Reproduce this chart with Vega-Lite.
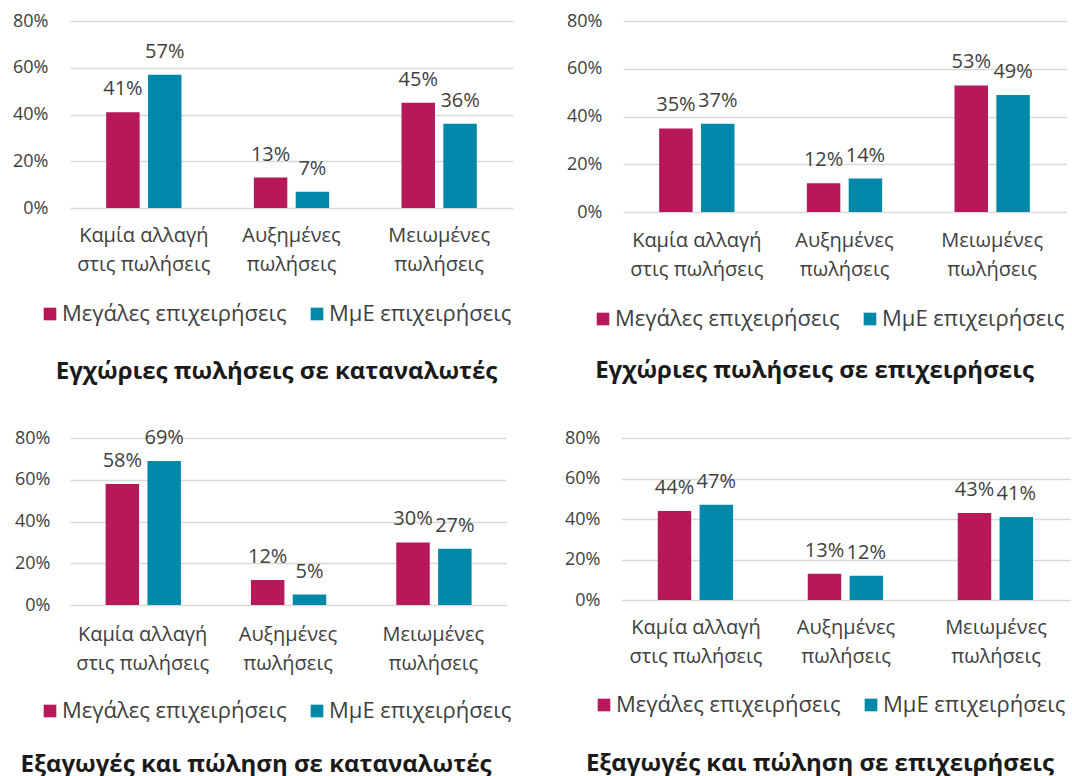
{
  "$schema": "https://vega.github.io/schema/vega-lite/v6.json",
  "padding": {"left": 12, "top": 12, "right": 0, "bottom": 0},
  "background": "white",
  "datasets": {
    "rows": [
      {"panel": "A", "cat": "Καμία αλλαγή στις πωλήσεις", "group": "Μεγάλες επιχειρήσεις", "value": 0.41},
      {"panel": "A", "cat": "Καμία αλλαγή στις πωλήσεις", "group": "ΜμΕ επιχειρήσεις", "value": 0.57},
      {"panel": "A", "cat": "Αυξημένες πωλήσεις", "group": "Μεγάλες επιχειρήσεις", "value": 0.13},
      {"panel": "A", "cat": "Αυξημένες πωλήσεις", "group": "ΜμΕ επιχειρήσεις", "value": 0.07},
      {"panel": "A", "cat": "Μειωμένες πωλήσεις", "group": "Μεγάλες επιχειρήσεις", "value": 0.45},
      {"panel": "A", "cat": "Μειωμένες πωλήσεις", "group": "ΜμΕ επιχειρήσεις", "value": 0.36},
      {"panel": "B", "cat": "Καμία αλλαγή στις πωλήσεις", "group": "Μεγάλες επιχειρήσεις", "value": 0.35},
      {"panel": "B", "cat": "Καμία αλλαγή στις πωλήσεις", "group": "ΜμΕ επιχειρήσεις", "value": 0.37},
      {"panel": "B", "cat": "Αυξημένες πωλήσεις", "group": "Μεγάλες επιχειρήσεις", "value": 0.12},
      {"panel": "B", "cat": "Αυξημένες πωλήσεις", "group": "ΜμΕ επιχειρήσεις", "value": 0.14},
      {"panel": "B", "cat": "Μειωμένες πωλήσεις", "group": "Μεγάλες επιχειρήσεις", "value": 0.53},
      {"panel": "B", "cat": "Μειωμένες πωλήσεις", "group": "ΜμΕ επιχειρήσεις", "value": 0.49},
      {"panel": "C", "cat": "Καμία αλλαγή στις πωλήσεις", "group": "Μεγάλες επιχειρήσεις", "value": 0.58},
      {"panel": "C", "cat": "Καμία αλλαγή στις πωλήσεις", "group": "ΜμΕ επιχειρήσεις", "value": 0.69},
      {"panel": "C", "cat": "Αυξημένες πωλήσεις", "group": "Μεγάλες επιχειρήσεις", "value": 0.12},
      {"panel": "C", "cat": "Αυξημένες πωλήσεις", "group": "ΜμΕ επιχειρήσεις", "value": 0.05},
      {"panel": "C", "cat": "Μειωμένες πωλήσεις", "group": "Μεγάλες επιχειρήσεις", "value": 0.30},
      {"panel": "C", "cat": "Μειωμένες πωλήσεις", "group": "ΜμΕ επιχειρήσεις", "value": 0.27},
      {"panel": "D", "cat": "Καμία αλλαγή στις πωλήσεις", "group": "Μεγάλες επιχειρήσεις", "value": 0.44},
      {"panel": "D", "cat": "Καμία αλλαγή στις πωλήσεις", "group": "ΜμΕ επιχειρήσεις", "value": 0.47},
      {"panel": "D", "cat": "Αυξημένες πωλήσεις", "group": "Μεγάλες επιχειρήσεις", "value": 0.13},
      {"panel": "D", "cat": "Αυξημένες πωλήσεις", "group": "ΜμΕ επιχειρήσεις", "value": 0.12},
      {"panel": "D", "cat": "Μειωμένες πωλήσεις", "group": "Μεγάλες επιχειρήσεις", "value": 0.43},
      {"panel": "D", "cat": "Μειωμένες πωλήσεις", "group": "ΜμΕ επιχειρήσεις", "value": 0.41}
    ]
  },
  "data": {"name": "rows"},
  "vconcat": [
    {
      "hconcat": [
        {
          "width": 443, "height": 187,
          "title": {"text": "Εγχώριες πωλήσεις σε καταναλωτές", "orient": "bottom", "anchor": "middle", "frame": "group", "dx": -15, "offset": 35},
          "transform": [{"filter": "datum.panel == 'A'"}],
          "encoding": {
            "x": {"field": "cat", "type": "nominal", "sort": ["Καμία αλλαγή στις πωλήσεις", "Αυξημένες πωλήσεις", "Μειωμένες πωλήσεις"], "scale": {"paddingInner": 0.49, "paddingOuter": 0.245}, "axis": {"title": null, "labelAngle": 0, "labelPadding": 17, "labelLineHeight": 29, "labelExpr": "datum.value == 'Καμία αλλαγή στις πωλήσεις' ? ['Καμία αλλαγή', 'στις πωλήσεις'] : split(datum.value, ' ')"}},
            "xOffset": {"field": "group", "type": "nominal", "sort": ["Μεγάλες επιχειρήσεις", "ΜμΕ επιχειρήσεις"], "scale": {"paddingInner": 0.2, "paddingOuter": 0}},
            "y": {"field": "value", "type": "quantitative", "scale": {"domain": [0, 0.8]}, "axis": {"title": null, "values": [0, 0.2, 0.4, 0.6, 0.8], "format": ".0%", "labelPadding": 22, "grid": true}}
          },
          "layer": [
            {"mark": {"type": "bar"}, "encoding": {"color": {"field": "group", "type": "nominal", "sort": ["Μεγάλες επιχειρήσεις", "ΜμΕ επιχειρήσεις"], "scale": {"domain": ["Μεγάλες επιχειρήσεις", "ΜμΕ επιχειρήσεις"], "range": ["#B7185A", "#0088A8"]}, "legend": {"title": null, "orient": "none", "direction": "horizontal", "legendX": -31, "legendY": 282}}}},
            {"mark": {"type": "text", "baseline": "middle", "dy": -23, "fontSize": 20, "color": "#404040"}, "encoding": {"text": {"field": "value", "type": "quantitative", "format": ".0%"}}}
          ]
        },
        {
          "width": 443, "height": 191,
          "title": {"text": "Εγχώριες πωλήσεις σε επιχειρήσεις", "orient": "bottom", "anchor": "middle", "frame": "group", "dx": -30, "offset": 29},
          "transform": [{"filter": "datum.panel == 'B'"}],
          "encoding": {
            "x": {"field": "cat", "type": "nominal", "sort": ["Καμία αλλαγή στις πωλήσεις", "Αυξημένες πωλήσεις", "Μειωμένες πωλήσεις"], "scale": {"paddingInner": 0.49, "paddingOuter": 0.245}, "axis": {"title": null, "labelAngle": 0, "labelPadding": 18, "labelLineHeight": 29, "labelExpr": "datum.value == 'Καμία αλλαγή στις πωλήσεις' ? ['Καμία αλλαγή', 'στις πωλήσεις'] : split(datum.value, ' ')"}},
            "xOffset": {"field": "group", "type": "nominal", "sort": ["Μεγάλες επιχειρήσεις", "ΜμΕ επιχειρήσεις"], "scale": {"paddingInner": 0.25, "paddingOuter": 0}},
            "y": {"field": "value", "type": "quantitative", "scale": {"domain": [0, 0.8]}, "axis": {"title": null, "values": [0, 0.2, 0.4, 0.6, 0.8], "format": ".0%", "labelPadding": 21, "grid": true}}
          },
          "layer": [
            {"mark": {"type": "bar"}, "encoding": {"color": {"field": "group", "type": "nominal", "sort": ["Μεγάλες επιχειρήσεις", "ΜμΕ επιχειρήσεις"], "scale": {"domain": ["Μεγάλες επιχειρήσεις", "ΜμΕ επιχειρήσεις"], "range": ["#B7185A", "#0088A8"]}, "legend": {"title": null, "orient": "none", "direction": "horizontal", "legendX": -31, "legendY": 287}}}},
            {"mark": {"type": "text", "baseline": "middle", "dy": -23, "fontSize": 20, "color": "#404040"}, "encoding": {"text": {"field": "value", "type": "quantitative", "format": ".0%"}}}
          ]
        }
      ],
      "spacing": 53,
      "resolve": {"scale": {"color": "independent"}}
    },
    {
      "hconcat": [
        {
          "width": 436, "height": 167,
          "title": {"text": "Εξαγωγές και πώληση σε καταναλωτές", "orient": "bottom", "anchor": "middle", "frame": "group", "dx": -32, "offset": 31},
          "transform": [{"filter": "datum.panel == 'C'"}],
          "encoding": {
            "x": {"field": "cat", "type": "nominal", "sort": ["Καμία αλλαγή στις πωλήσεις", "Αυξημένες πωλήσεις", "Μειωμένες πωλήσεις"], "scale": {"paddingInner": 0.49, "paddingOuter": 0.245}, "axis": {"title": null, "labelAngle": 0, "labelPadding": 19, "labelLineHeight": 29, "labelExpr": "datum.value == 'Καμία αλλαγή στις πωλήσεις' ? ['Καμία αλλαγή', 'στις πωλήσεις'] : split(datum.value, ' ')"}},
            "xOffset": {"field": "group", "type": "nominal", "sort": ["Μεγάλες επιχειρήσεις", "ΜμΕ επιχειρήσεις"], "scale": {"paddingInner": 0.2, "paddingOuter": 0}},
            "y": {"field": "value", "type": "quantitative", "scale": {"domain": [0, 0.8]}, "axis": {"title": null, "values": [0, 0.2, 0.4, 0.6, 0.8], "format": ".0%", "labelPadding": 20, "grid": true}}
          },
          "layer": [
            {"mark": {"type": "bar"}, "encoding": {"color": {"field": "group", "type": "nominal", "sort": ["Μεγάλες επιχειρήσεις", "ΜμΕ επιχειρήσεις"], "scale": {"domain": ["Μεγάλες επιχειρήσεις", "ΜμΕ επιχειρήσεις"], "range": ["#B7185A", "#0088A8"]}, "legend": {"title": null, "orient": "none", "direction": "horizontal", "legendX": -31, "legendY": 262}}}},
            {"mark": {"type": "text", "baseline": "middle", "dy": -23, "fontSize": 20, "color": "#404040"}, "encoding": {"text": {"field": "value", "type": "quantitative", "format": ".0%"}}}
          ]
        },
        {
          "width": 450, "height": 162,
          "title": {"text": "Εξαγωγές και πώληση σε επιχειρήσεις", "orient": "bottom", "anchor": "middle", "frame": "group", "dx": -26, "offset": 36},
          "transform": [{"filter": "datum.panel == 'D'"}],
          "encoding": {
            "x": {"field": "cat", "type": "nominal", "sort": ["Καμία αλλαγή στις πωλήσεις", "Αυξημένες πωλήσεις", "Μειωμένες πωλήσεις"], "scale": {"paddingInner": 0.49, "paddingOuter": 0.245}, "axis": {"title": null, "labelAngle": 0, "labelPadding": 17, "labelLineHeight": 29, "labelExpr": "datum.value == 'Καμία αλλαγή στις πωλήσεις' ? ['Καμία αλλαγή', 'στις πωλήσεις'] : split(datum.value, ' ')"}},
            "xOffset": {"field": "group", "type": "nominal", "sort": ["Μεγάλες επιχειρήσεις", "ΜμΕ επιχειρήσεις"], "scale": {"paddingInner": 0.22, "paddingOuter": 0}},
            "y": {"field": "value", "type": "quantitative", "scale": {"domain": [0, 0.8]}, "axis": {"title": null, "values": [0, 0.2, 0.4, 0.6, 0.8], "format": ".0%", "labelPadding": 21, "grid": true}}
          },
          "layer": [
            {"mark": {"type": "bar"}, "encoding": {"color": {"field": "group", "type": "nominal", "sort": ["Μεγάλες επιχειρήσεις", "ΜμΕ επιχειρήσεις"], "scale": {"domain": ["Μεγάλες επιχειρήσεις", "ΜμΕ επιχειρήσεις"], "range": ["#B7185A", "#0088A8"]}, "legend": {"title": null, "orient": "none", "direction": "horizontal", "legendX": -28, "legendY": 256}}}},
            {"mark": {"type": "text", "baseline": "middle", "dy": -23, "fontSize": 20, "color": "#404040"}, "encoding": {"text": {"field": "value", "type": "quantitative", "format": ".0%"}}}
          ]
        }
      ],
      "spacing": 52,
      "resolve": {"scale": {"color": "independent"}}
    }
  ],
  "spacing": 43,
  "resolve": {"scale": {"color": "independent"}},
  "config": {
    "font": "Open Sans",
    "view": {"stroke": null},
    "axis": {"labelFont": "Open Sans", "labelFontSize": 18, "labelColor": "#404040", "ticks": false, "domain": false, "gridColor": "#D9D9D9", "gridWidth": 1.5},
    "axisX": {"grid": false, "labelFontSize": 20},
    "legend": {"labelFont": "Open Sans", "labelFontSize": 22, "labelColor": "#404040", "labelLimit": 500, "symbolType": "square", "symbolSize": 160, "symbolStrokeWidth": 0, "labelOffset": 1, "columnPadding": 19},
    "title": {"font": "Open Sans", "fontSize": 24, "fontWeight": "bold", "color": "#1a1a1a"}
  }
}
